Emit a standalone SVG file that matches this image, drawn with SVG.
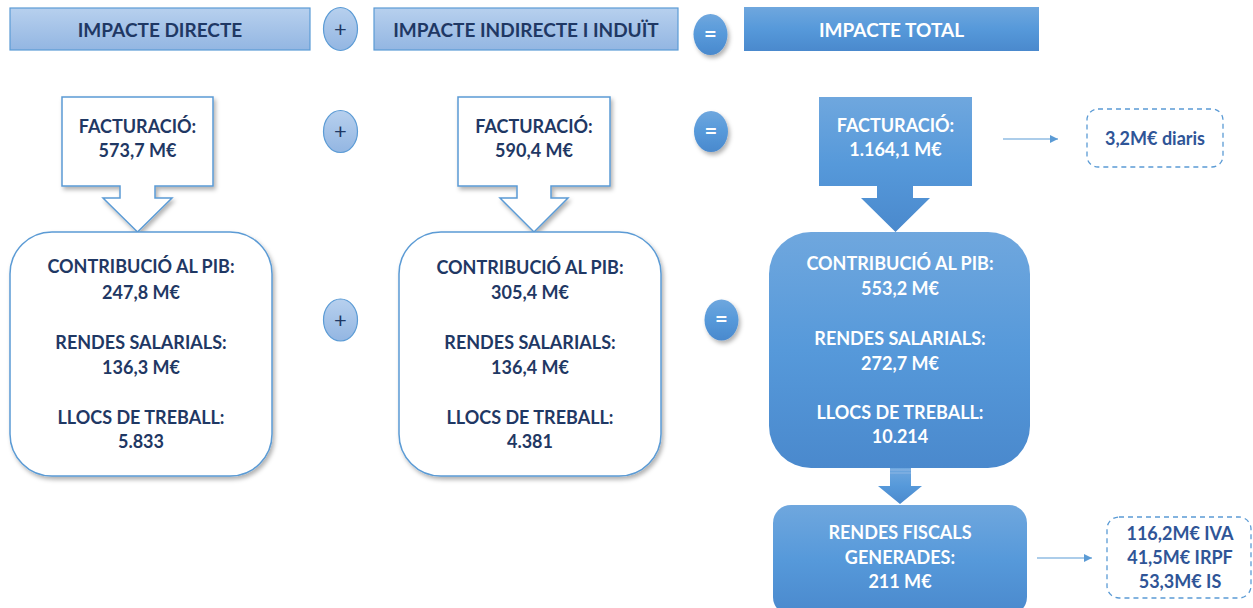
<svg xmlns="http://www.w3.org/2000/svg" width="1253" height="608" viewBox="0 0 1253 608">
<defs>
<linearGradient id="gLight" x1="0" y1="0" x2="0" y2="1"><stop offset="0" stop-color="#B7D0EE"/><stop offset="1" stop-color="#93B6E2"/></linearGradient>
<linearGradient id="gBlue" x1="0" y1="0" x2="0" y2="1"><stop offset="0" stop-color="#6FA7DE"/><stop offset="0.5" stop-color="#5699DA"/><stop offset="1" stop-color="#4A89CD"/></linearGradient>
<filter id="sh" x="-20%" y="-20%" width="140%" height="140%"><feDropShadow dx="2" dy="3" stdDeviation="2" flood-color="#000" flood-opacity="0.3"/></filter>
<marker id="arr" viewBox="0 0 10 10" refX="10" refY="5" markerWidth="8" markerHeight="8" markerUnits="userSpaceOnUse" orient="auto"><path d="M0,0 L10,5 L0,10 Z" fill="#5B9BD5"/></marker>
</defs>
<style>
text{font-family:Lato,"Liberation Sans",Arial,sans-serif;font-weight:bold;text-anchor:middle}
.hd{font-size:19px;fill:#1F3864}
.hw{font-size:19px;fill:#FFFFFF}
.t{font-size:18px;fill:#1F3864}
.w{font-size:18px;fill:#FFFFFF}
.d{font-size:18px;fill:#2F5597}
.hbox{fill:url(#gLight);stroke:#5B9BD5;stroke-width:1.2}
.plus{fill:url(#gLight);stroke:#5B9BD5;stroke-width:1.2}
.eq{fill:url(#gBlue);filter:url(#sh)}
.wbox{fill:#FFFFFF;stroke:#5B9BD5;stroke-width:1.5;filter:url(#sh)}
.bbox{fill:url(#gBlue)}
.dash{fill:#FFFFFF;stroke:#5B9BD5;stroke-width:1.3;stroke-dasharray:5 4}
.sym{font-size:22px;font-weight:normal;fill:#1F3864}
.symw{font-size:22px;fill:#FFFFFF}
.ln{stroke:#5B9BD5;stroke-width:1.2;fill:none}
</style>
<g id="header-directe"><rect class="hbox" x="10" y="8" width="300" height="42"/><text class="hd" x="160" y="37">IMPACTE DIRECTE</text></g>
<g id="plus-1"><ellipse class="plus" cx="340.5" cy="29" rx="17" ry="21.5"/><text class="sym" x="340.5" y="36.5">+</text></g>
<g id="header-indirecte"><rect class="hbox" x="374" y="8" width="304" height="42"/><text class="hd" x="526" y="37">IMPACTE INDIRECTE I INDUÏT</text></g>
<g id="eq-1"><ellipse class="eq" cx="710.5" cy="34.5" rx="17" ry="20.5"/><text class="symw" x="710.5" y="41.5">=</text></g>
<g id="header-total"><rect class="bbox" x="744" y="7" width="295" height="44"/><text class="hw" x="891.5" y="37">IMPACTE TOTAL</text></g>

<g id="fact-directe"><path class="wbox" d="M62,97 H213 V186 H155 V198 H172 L137.5,232 L103,198 H120 V186 H62 Z"/><text class="t" x="137.5" y="133">FACTURACIÓ:</text><text class="t" x="137.5" y="157">573,7 M€</text></g>
<g id="plus-2"><ellipse class="plus" cx="340.5" cy="131.5" rx="17" ry="21"/><text class="sym" x="340.5" y="139">+</text></g>
<g id="fact-indirecte"><path class="wbox" d="M458,97 H610 V186 H551 V198 H568 L534,232 L500,198 H517 V186 H458 Z"/><text class="t" x="534" y="133">FACTURACIÓ:</text><text class="t" x="534" y="157">590,4 M€</text></g>
<g id="eq-2"><ellipse class="eq" cx="711" cy="131.5" rx="17" ry="20.5"/><text class="symw" x="711" y="138.5">=</text></g>
<g id="fact-total"><path class="bbox" d="M819,97 H972 V186 H913 V198 H930 L895.5,232 L861,198 H877 V186 H819 Z"/><text class="w" x="895.5" y="132">FACTURACIÓ:</text><text class="w" x="895.5" y="156">1.164,1 M€</text></g>
<g id="diaris"><rect class="dash" x="1087" y="109" width="136" height="58" rx="11"/><text class="d" x="1155" y="145">3,2M€ diaris</text></g>

<g id="pib-directe"><rect class="wbox" x="10" y="232" width="262" height="244" rx="42"/><text class="t" x="141" y="273">CONTRIBUCIÓ AL PIB:</text><text class="t" x="141" y="299">247,8 M€</text><text class="t" x="141" y="349">RENDES SALARIALS:</text><text class="t" x="141" y="374">136,3 M€</text><text class="t" x="141" y="424">LLOCS DE TREBALL:</text><text class="t" x="141" y="448">5.833</text></g>
<g id="plus-3"><ellipse class="plus" cx="340.5" cy="320" rx="17" ry="21"/><text class="sym" x="340.5" y="327.5">+</text></g>
<g id="pib-indirecte"><rect class="wbox" x="399" y="232" width="262" height="244" rx="42"/><text class="t" x="530" y="274">CONTRIBUCIÓ AL PIB:</text><text class="t" x="530" y="299">305,4 M€</text><text class="t" x="530" y="349">RENDES SALARIALS:</text><text class="t" x="530" y="374">136,4 M€</text><text class="t" x="530" y="424">LLOCS DE TREBALL:</text><text class="t" x="530" y="448">4.381</text></g>
<g id="eq-3"><ellipse class="eq" cx="721.5" cy="320" rx="17" ry="20.5"/><text class="symw" x="721.5" y="327">=</text></g>
<g id="pib-total"><rect class="bbox" x="769" y="232" width="261" height="236" rx="42"/><text class="w" x="900" y="270">CONTRIBUCIÓ AL PIB:</text><text class="w" x="900" y="295">553,2 M€</text><text class="w" x="900" y="345">RENDES SALARIALS:</text><text class="w" x="900" y="370">272,7  M€</text><text class="w" x="900" y="419">LLOCS DE TREBALL:</text><text class="w" x="900" y="443">10.214</text></g>

<g id="fiscals"><rect class="bbox" x="773" y="505" width="254" height="110" rx="18"/><text class="w" x="900" y="539">RENDES FISCALS</text><text class="w" x="900" y="564">GENERADES:</text><text class="w" x="900" y="588">211 M€</text></g>
<g id="impostos"><rect class="dash" x="1107" y="517" width="144" height="81" rx="12"/><text class="d" x="1180" y="540">116,2M€ IVA</text><text class="d" x="1180" y="564">41,5M€ IRPF</text><text class="d" x="1180" y="588">53,3M€ IS</text></g>

<g id="connectors">
<line class="ln" x1="1003" y1="139" x2="1058" y2="139" marker-end="url(#arr)"/>
<line class="ln" x1="1037" y1="558" x2="1092" y2="558" marker-end="url(#arr)"/>
<path d="M890,468 H911 V486 H922 L900,504 L878,486 H890 Z" fill="url(#gBlue)"/>
<line x1="890" y1="470" x2="911" y2="470" stroke="#8DB6E4" stroke-width="1"/>
<line x1="890" y1="473" x2="911" y2="473" stroke="#8DB6E4" stroke-width="1"/>
</g>
</svg>
